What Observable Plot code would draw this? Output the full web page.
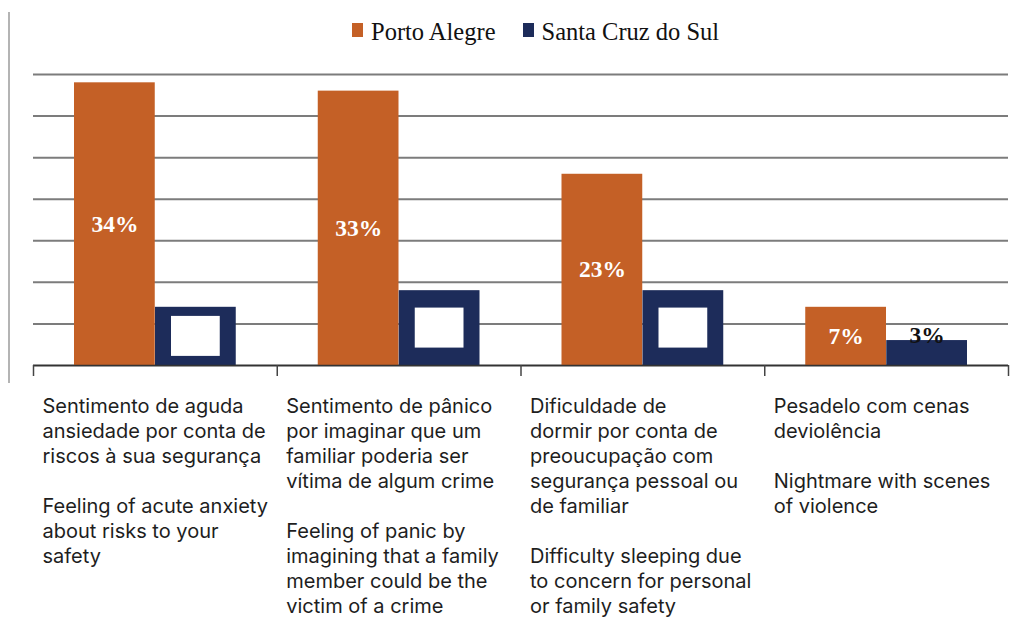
<!DOCTYPE html>
<html>
<head>
<meta charset="utf-8">
<script src="https://cdn.jsdelivr.net/npm/d3@7"></script>
<script src="https://cdn.jsdelivr.net/npm/@observablehq/plot@0.6"></script>
<style>
  html, body { margin: 0; padding: 0; background: #fff; overflow: hidden; }
  #page { position: relative; width: 1020px; height: 619px; }
  #edge { position: absolute; left: 8px; top: 12px; width: 2px; height: 371px; background: #b4b4b4; }
  #legend { display: flex; align-items: flex-start; box-sizing: border-box; height: 60px; padding-left: 352px; padding-top: 18px; }
  .item { display: flex; align-items: flex-start; margin-right: 27px; }
  .sw { width: 11px; height: 14px; margin-top: 5px; margin-right: 8px; }
  .lt { font: 24.5px/27px "Liberation Serif", "Times New Roman", serif; color: #111; white-space: nowrap; }
</style>
</head>
<body>
<div id="page">
  <div id="legend"></div>
  <div id="chart"></div>
  <div id="edge"></div>
</div>
<script>
const categories = [
  "Sentimento de aguda\nansiedade por conta de\nriscos à sua segurança\n\nFeeling of acute anxiety\nabout risks to your\nsafety",
  "Sentimento de pânico\npor imaginar que um\nfamiliar poderia ser\nvítima de algum crime\n\nFeeling of panic by\nimagining that a family\nmember could be the\nvictim of a crime",
  "Dificuldade de\ndormir por conta de\npreoucupação com\nsegurança pessoal ou\nde familiar\n\nDifficulty sleeping due\nto concern for personal\nor family safety",
  "Pesadelo com cenas\ndeviolência\n\nNightmare with scenes\nof violence"
];
const series = ["Porto Alegre", "Santa Cruz do Sul"];
const seriesColors = ["#C46026", "#1D2C5A"];
const portoAlegre = [34, 33, 23, 7];
const santaCruz = [7, 9, 9, 3];
const yMax = 35;
const gridStep = 5;

// legend
const legend = document.getElementById("legend");
series.forEach((s, k) => {
  const item = document.createElement("div");
  item.className = "item";
  const sw = document.createElement("div");
  sw.className = "sw";
  sw.style.background = seriesColors[k];
  const lt = document.createElement("div");
  lt.className = "lt";
  lt.textContent = s;
  item.appendChild(sw);
  item.appendChild(lt);
  legend.appendChild(item);
});

const pa = categories.map((c, i) => ({i, c, city: series[0], value: portoAlegre[i]}));
const scs = categories.map((c, i) => ({i, c, city: series[1], value: santaCruz[i]}));

const valueFont = {fontFamily: "Liberation Serif", fontWeight: "bold", fontSize: 23.5};

const chart = Plot.plot({
  width: 1020,
  height: 559,
  marginTop: 14,
  marginBottom: 254,
  marginLeft: 33,
  marginRight: 12,
  x: {domain: [0, categories.length], axis: null},
  y: {domain: [0, yMax], axis: null},
  marks: [
    Plot.gridY({interval: gridStep, stroke: "#7c7c7c", strokeOpacity: 1, strokeWidth: 2}),
    Plot.rectY(pa, {x1: d => d.i, x2: d => d.i + 1, y1: 0, y2: "value", fill: seriesColors[0], insetLeft: 41, insetRight: 122}),
    Plot.rectY(scs, {x1: d => d.i, x2: d => d.i + 1, y1: 0, y2: "value", fill: seriesColors[1], insetLeft: 122, insetRight: 41}),
    Plot.ruleY([0], {stroke: "#333", strokeWidth: 1.5}),
    Plot.axisX({ticks: d3.range(categories.length + 1), tickSize: 11, tickFormat: () => "", stroke: "#444", strokeWidth: 1.5}),
    Plot.text(pa, {x: d => d.i + 0.5, y: d => d.value / 2, dx: -40.5, text: d => d.value + "%", fill: "white", ...valueFont}),
    Plot.text(scs.filter(d => d.value >= 5), {x: d => d.i + 0.5, y: d => d.value / 2, dx: 40.5, text: d => d.value + "%", fill: "white", ...valueFont}),
    Plot.rect(scs.filter(d => d.value >= 5), {x1: d => d.i, x2: d => d.i + 1, y1: d => d.value / 2, y2: d => d.value / 2, insetLeft: 138, insetRight: 57, insetTop: -20, insetBottom: -20, fill: "white"}),
    Plot.text(scs.filter(d => d.value < 5), {x: d => d.i + 0.5, y: "value", dx: 40.5, dy: -5, text: d => d.value + "%", fill: "#111", ...valueFont}),
    Plot.text(categories, {x: (d, i) => i, frameAnchor: "bottom", dx: 9, dy: 29.5, text: d => d, textAnchor: "start", lineAnchor: "top", lineHeight: 1.25, fontSize: 20, fontFamily: "Inter", fill: "#1e1e1e"})
  ]
});
document.getElementById("chart").appendChild(chart);
</script>
</body>
</html>
